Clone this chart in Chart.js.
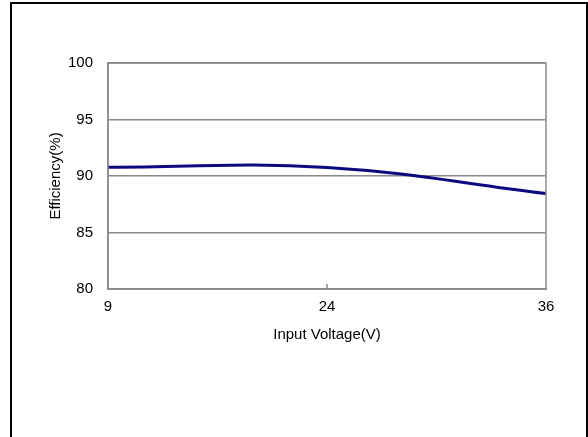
<!DOCTYPE html>
<html>
<head>
<meta charset="utf-8">
<script src="https://cdn.jsdelivr.net/npm/chart.js@4/dist/chart.umd.min.js"></script>
<style>
  html, body { margin: 0; padding: 0; background: #fff; overflow: hidden; }
  #wrap { position: relative; width: 588px; height: 437px; }
  #frame { position: absolute; left: 10px; top: 2px; width: 574px; height: 500px; border: 2px solid #000; pointer-events: none; }
  canvas { position: absolute; left: 0; top: 0; }
</style>
</head>
<body>
<div id="wrap">
  <canvas id="c" width="588" height="437"></canvas>
  <div id="frame"></div>
</div>
<script>
// Data
const voltageLabels = ['9', '24', '36'];
const efficiencyValues = [90.78, 90.76, 88.45];
const yTickValues = [80, 85, 90, 95, 100];
const xAxisTitle = 'Input Voltage(V)';
const yAxisTitle = 'Efficiency(%)';

const FONT = { family: '"Liberation Sans", Arial, sans-serif', size: 15 };
const GRID = '#8a8a8a';

const frameAndTicks = {
  id: 'frameAndTicks',
  afterDatasetsDraw(chart) {
    const { ctx, chartArea: a, scales } = chart;
    ctx.save();
    ctx.strokeStyle = GRID;
    ctx.lineWidth = 1.5;
    ctx.strokeRect(a.left, a.top, a.right - a.left, a.bottom - a.top);
    // inner tick marks on the category axis (between the end points)
    const xs = scales.x;
    for (let i = 1; i < xs.ticks.length - 1; i++) {
      const px = xs.getPixelForTick(i);
      ctx.beginPath();
      ctx.moveTo(px, a.bottom);
      ctx.lineTo(px, a.bottom - 5);
      ctx.stroke();
    }
    ctx.restore();
  }
};

new Chart(document.getElementById('c'), {
  type: 'line',
  data: {
    labels: voltageLabels,
    datasets: [{
      data: efficiencyValues,
      borderColor: '#0a0a80',
      borderWidth: 3,
      pointRadius: 0,
      tension: 0.4,
      fill: false
    }]
  },
  options: {
    responsive: false,
    animation: false,
    layout: { padding: { left: 40, top: 63, right: 42, bottom: 0 } },
    plugins: { legend: { display: false }, tooltip: { enabled: false } },
    scales: {
      x: {
        type: 'category',
        offset: false,
        grid: { display: false, drawTicks: false },
        border: { display: true, color: GRID, width: 1.5 },
        ticks: { color: '#000', font: FONT, padding: 9, maxRotation: 0, autoSkip: false },
        title: { display: true, text: xAxisTitle, color: '#000', font: FONT, padding: { top: 0, bottom: 93 } },
        afterFit(s) { s.height = 148; }
      },
      y: {
        min: 80, max: 100,
        afterBuildTicks(s) { s.ticks = yTickValues.map(v => ({ value: v })); },
        grid: { color: GRID, lineWidth: 1.5, drawTicks: false },
        border: { display: true, color: GRID, width: 1.5 },
        ticks: { color: '#000', font: FONT, padding: 15 },
        title: { display: true, text: yAxisTitle, color: '#000', font: FONT, padding: { top: 7, bottom: 0 } },
        afterFit(s) { s.width = 68; }
      }
    }
  },
  plugins: [frameAndTicks]
});
</script>
</body>
</html>
